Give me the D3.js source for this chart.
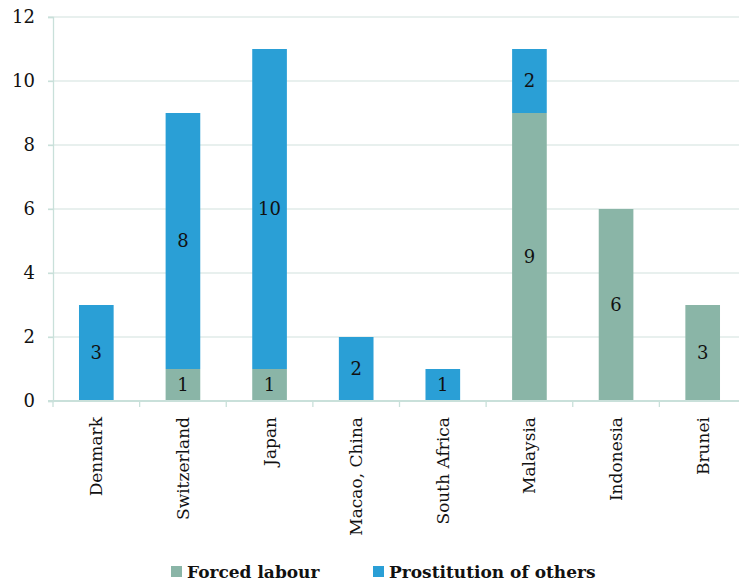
<!DOCTYPE html>
<html><head><meta charset="utf-8">
<script src="https://cdn.jsdelivr.net/npm/d3@7"></script>
<style>html,body{margin:0;padding:0;background:#fff;}svg{display:block;}</style>
</head><body>
<svg id="chart" width="739" height="588"></svg>
<script>
const categories = ["Denmark","Switzerland","Japan","Macao, China","South Africa","Malaysia","Indonesia","Brunei"];
const forcedLabour = [0,1,1,0,0,9,6,3];
const prostitution = [3,8,10,2,1,2,0,0];
const seriesNames = ["Forced labour","Prostitution of others"];
const seriesColors = ["#8ab5a7","#2a9fd6"];
const yTicks = [0,2,4,6,8,10,12];

const svg = d3.select("#chart");
const font = "'DejaVu Serif', serif";
const x = d3.scaleBand().domain(categories).range([53, 746]).paddingInner(0.6).paddingOuter(0.3);
const y = d3.scaleLinear().domain([0,12]).range([401,17]);

const rows = categories.map((c,i)=>({cat:c, f:forcedLabour[i], p:prostitution[i]}));
const stack = d3.stack().keys(["f","p"])(rows);

// gridlines
svg.append("g").selectAll("line").data(yTicks.filter(t=>t>0)).join("line")
  .attr("x1",48).attr("x2",739).attr("y1",d=>y(d)).attr("y2",d=>y(d))
  .attr("stroke","#e1ebe9").attr("stroke-width",1.3);

// bars
const gs = svg.append("g").selectAll("g").data(stack).join("g").attr("fill",(d,i)=>seriesColors[i]);
gs.selectAll("rect").data(d=>d.filter(s=>s[1]-s[0]>0)).join("rect")
  .attr("x",d=>x(d.data.cat)).attr("width",x.bandwidth())
  .attr("y",d=>y(d[1])).attr("height",d=>y(d[0])-y(d[1]));

// value labels
stack.forEach(layer=>{
  svg.append("g").selectAll("text").data(layer.filter(s=>s[1]-s[0]>0)).join("text")
    .attr("x",d=>x(d.data.cat)+x.bandwidth()/2)
    .attr("y",d=>(y(d[0])+y(d[1]))/2)
    .attr("dy","0.36em").attr("text-anchor","middle")
    .attr("font-family",font).attr("font-size",18).attr("fill","#111")
    .text(d=>d[1]-d[0]);
});

// y axis
const yAxis = svg.append("g").attr("transform","translate(53,0)")
  .call(d3.axisLeft(y).tickValues(yTicks).tickSize(5).tickPadding(13).tickFormat(d3.format("d")));
yAxis.selectAll("line,path").attr("stroke","#c9e0da").attr("stroke-width",1.3);
yAxis.selectAll("text").attr("font-family",font).attr("font-size",18).attr("fill","#111");

// x axis
const xAxis = svg.append("g").attr("transform","translate(0,401)")
  .call(d3.axisBottom(x).tickSize(0).tickPadding(0));
xAxis.select("path").remove();
xAxis.selectAll("text").attr("font-family",font).attr("font-size",17).attr("fill","#111")
  .attr("text-anchor","end").attr("transform","rotate(-90)")
  .attr("x",-16).attr("y",0).attr("dy","0.35em");
svg.append("line").attr("x1",48).attr("x2",739).attr("y1",401).attr("y2",401)
  .attr("stroke","#c9e0da").attr("stroke-width",2);
const bounds = categories.map(c=>x(c)-x.step()*x.paddingInner()/2);
svg.append("g").selectAll("line").data(bounds).join("line")
  .attr("x1",d=>d).attr("x2",d=>d).attr("y1",401).attr("y2",407)
  .attr("stroke","#c9e0da").attr("stroke-width",1.3);

// legend
const legX = [171, 373];
const leg = svg.append("g").selectAll("g").data(seriesNames).join("g")
  .attr("transform",(d,i)=>`translate(${legX[i]},572)`);
leg.append("rect").attr("x",0).attr("y",-6).attr("width",11).attr("height",11).attr("fill",(d,i)=>seriesColors[i]);
leg.append("text").attr("x",16).attr("y",0).attr("dy","0.36em")
  .attr("font-family",font).attr("font-size",17).attr("font-weight","bold").attr("fill","#111")
  .text(d=>d);
</script>
</body></html>
